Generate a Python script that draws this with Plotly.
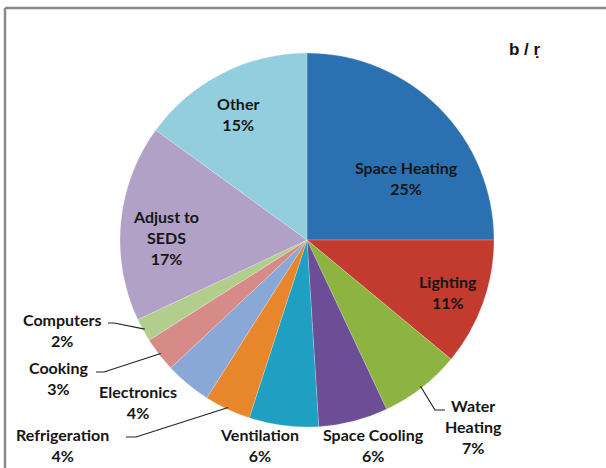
import math
import plotly.graph_objects as go

# ---- data ----
categories = ["Space Heating", "Lighting", "Water Heating", "Space Cooling", "Ventilation",
              "Refrigeration", "Electronics", "Cooking", "Computers", "Adjust to SEDS", "Other"]
values = [25, 11, 7, 6, 6, 4, 4, 3, 2, 17, 15]
label_text = ["Space Heating", "Lighting", "Water<br>Heating", "Space Cooling", "Ventilation",
              "Refrigeration", "Electronics", "Cooking", "Computers", "Adjust to<br>SEDS", "Other"]
colors = ["#2b70b0", "#c33a2f", "#8db440", "#6b4e95", "#1f9fc1",
          "#e8862b", "#8aa8d6", "#d68b89", "#b3cd8c", "#b2a1c7", "#93cedf"]

W, H = 606, 468
CX, CY, R = 307, 240, 187

# label block centres in pixels (layout only)
label_pos = {
    "Space Heating": (406, 178), "Lighting": (448, 292), "Water Heating": (473, 426),
    "Space Cooling": (373, 445), "Ventilation": (259, 445), "Refrigeration": (62, 445),
    "Electronics": (138, 402), "Cooking": (58, 378), "Computers": (62, 330),
    "Adjust to SEDS": (166, 237), "Other": (238, 114),
}
# leader line start points (pixels) near the label, and length of the short horizontal run
leaders = {
    "Computers": ((108, 323), 6),
    "Cooking": ((96, 372), 8),
    "Refrigeration": ((126, 437), 10),
    "Water Heating": ((445, 410), -10),
}

def px(x, y):
    return x / W, 1 - y / H

fig = go.Figure(go.Pie(
    labels=categories, values=values, sort=False, direction="clockwise", rotation=0,
    marker=dict(colors=colors, line=dict(color="rgba(255,255,255,0.35)", width=0.6)),
    textinfo="none", hoverinfo="label+percent", showlegend=False,
    domain=dict(x=[(CX - R) / W, (CX + R) / W], y=[(H - CY - R) / H, (H - CY + R) / H]),
))

total = sum(values)
annotations = []
shapes = []
cum = 0
for name, txt, v in zip(categories, label_text, values):
    mid = 2 * math.pi * (cum + v / 2) / total
    cum += v
    lx, ly = label_pos[name]
    ax, ay = px(lx, ly)
    annotations.append(dict(
        x=ax, y=ay, xref="paper", yref="paper", showarrow=False,
        xanchor="center", yanchor="middle", align="center",
        text=f"<b>{txt}<br>{round(100 * v / total)}%</b>",
        font=dict(family="Lato, Open Sans, sans-serif", size=16, color="#161616"),
    ))
    if name in leaders:
        (sx, sy), run = leaders[name]
        ex = CX + R * 0.99 * math.sin(mid)
        ey = CY - R * 0.99 * math.cos(mid)
        p0 = px(sx, sy)
        p1 = px(sx + run, sy)
        p2 = px(ex, ey)
        shapes.append(dict(
            type="path", xref="paper", yref="paper",
            path=f"M {p0[0]} {p0[1]} L {p1[0]} {p1[1]} L {p2[0]} {p2[1]}",
            line=dict(color="#222222", width=1.2),
        ))

# title-like text at top right
annotations.append(dict(
    x=px(525, 50)[0], y=px(525, 50)[1], xref="paper", yref="paper", showarrow=False,
    xanchor="center", yanchor="middle", text="<b>b / ṛ</b>",
    font=dict(family="Liberation Sans, Arial, sans-serif", size=17, color="#111111"),
))

# frame lines (top and left)
shapes.append(dict(type="line", xref="paper", yref="paper",
                   x0=px(5, 8)[0], y0=px(5, 8)[1], x1=1, y1=px(5, 8)[1],
                   line=dict(color="#8a8a8a", width=2.5)))
shapes.append(dict(type="line", xref="paper", yref="paper",
                   x0=px(5, 8)[0], y0=px(5, 8)[1], x1=px(5, 8)[0], y1=0,
                   line=dict(color="#8a8a8a", width=2.5)))

fig.update_layout(
    width=W, height=H, margin=dict(l=0, r=0, t=0, b=0),
    paper_bgcolor="white", plot_bgcolor="white",
    annotations=annotations, shapes=shapes,
)
fig.write_html("out.html", config={"displayModeBar": False},
               post_script="document.body.style.margin='0';document.body.style.overflow='hidden';")
